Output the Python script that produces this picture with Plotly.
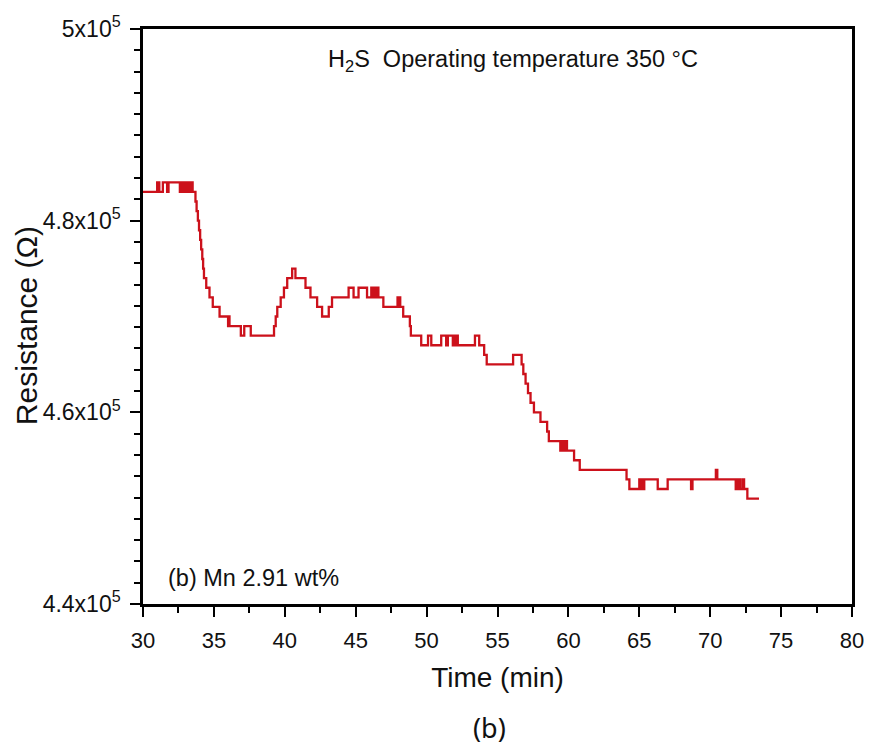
import plotly.graph_objects as go

# Sensor response to H2S at 350 °C, sample (b) Mn 2.91 wt%
# Step-wise resistance log: time (min) and resistance (ohm); each value holds until the next time stamp
time_min = [
    30.0, 31.0, 31.15, 31.4, 31.7, 31.8, 32.6, 32.7, 32.8, 32.9, 33.0, 33.1, 33.25, 33.35, 33.5,
    33.7, 33.78, 33.87, 33.95, 34.03, 34.1, 34.18, 34.24, 34.3, 34.46, 34.69, 34.92, 35.4,
    36.0, 36.05, 36.1, 36.9, 37.14, 37.6, 39.24, 39.36, 39.47, 39.71, 39.83, 39.94, 40.17,
    40.52, 40.75, 41.46, 41.81, 42.28, 42.63, 43.1, 43.33,
    44.5, 44.85, 45.2, 45.8, 46.1, 46.2, 46.3, 46.4, 46.5, 46.6, 46.95,
    47.95, 48.02, 48.08, 48.14, 48.35, 48.82, 48.89, 49.62, 50.1, 50.33, 51.03, 51.38,
    51.5, 51.85, 51.95, 52.05, 52.12, 52.2, 53.41, 53.71, 54.06, 54.24, 56.1, 56.7,
    56.82, 56.98, 57.15, 57.33, 57.57, 58.03, 58.5, 58.62, 59.43, 59.55, 59.65, 59.75, 59.9,
    60.4, 60.8, 64.1, 64.3, 65.0, 65.08, 65.16, 65.24, 65.35, 66.3, 67.0, 68.65, 68.75, 70.4, 70.5,
    71.8, 71.95, 72.1, 72.27, 72.39, 72.62, 73.44,
]
resistance_ohm = [
    483000, 484000, 483000, 484000, 483000, 484000, 483000, 484000, 483000, 484000, 483000, 484000, 483000, 484000, 483000,
    482000, 481000, 480000, 479000, 478000, 477000, 476000, 475000, 474000, 473000, 472000, 471000, 470000,
    469000, 470000, 469000, 468000, 469000, 468000, 469000, 470000, 471000, 472000, 472000, 473000, 474000,
    475000, 474000, 473000, 472000, 471000, 470000, 471000, 472000,
    473000, 472000, 473000, 472000, 473000, 472000, 473000, 472000, 473000, 472000, 471000,
    472000, 471000, 472000, 471000, 470000, 469000, 468000, 467000, 468000, 467000, 468000, 467000,
    468000, 467000, 468000, 467000, 468000, 467000, 468000, 467000, 466000, 465000, 466000, 465000,
    464000, 463000, 462000, 461000, 460000, 459000, 458000, 457000, 456000, 457000, 456000, 457000, 456000,
    455000, 454000, 453000, 452000, 453000, 452000, 453000, 452000, 453000, 452000, 453000, 452000, 453000, 454000, 453000,
    452000, 453000, 452000, 453000, 452000, 451000, 451000,
]

x_ticks = [30, 35, 40, 45, 50, 55, 60, 65, 70, 75, 80]
y_ticks = [440000, 460000, 480000, 500000]
y_tick_text = ["4.4x10<sup>5</sup>", "4.6x10<sup>5</sup>", "4.8x10<sup>5</sup>", "5x10<sup>5</sup>"]

FONT = "Liberation Sans, Arial, sans-serif"
INK = "#111111"

fig = go.Figure()
fig.add_trace(go.Scatter(
    x=time_min,
    y=resistance_ohm,
    mode="lines",
    line=dict(color="#cc111b", width=2.3, shape="hv"),
    showlegend=False,
    hoverinfo="skip",
))

axis_common = dict(
    showline=True, linecolor="black", linewidth=2.5, mirror=True,
    showgrid=False, zeroline=False,
    ticks="outside", ticklen=10, tickwidth=2, tickcolor="black",
)

fig.update_xaxes(
    **axis_common,
    range=[30, 80],
    tickvals=x_ticks,
    tickfont=dict(family=FONT, size=22, color=INK),
    ticklabelstandoff=5,
    minor=dict(ticks="outside", ticklen=6, tickwidth=2, tickcolor="black", dtick=2.5, tick0=30),
    title=dict(text="Time (min)", font=dict(family=FONT, size=28, color=INK), standoff=16),
)
fig.update_yaxes(
    **axis_common,
    range=[440000, 500000],
    tickvals=y_ticks,
    ticktext=y_tick_text,
    tickfont=dict(family=FONT, size=23, color=INK),
    ticklabelstandoff=5,
    minor=dict(ticks="outside", ticklen=6, tickwidth=2, tickcolor="black", dtick=20000 / 9, tick0=440000),
)

# y-axis title placed as a rotated annotation
fig.add_annotation(
    text="Resistance (Ω)",
    xref="paper", yref="paper", x=-0.1634, y=0.4835, xanchor="center", yanchor="middle",
    textangle=-90, showarrow=False, font=dict(family=FONT, size=30, color=INK),
)
fig.add_annotation(
    text="H<sub>2</sub>S  Operating temperature 350 °C",
    xref="paper", yref="paper", x=0.258, y=0.9445, xanchor="left", yanchor="middle",
    showarrow=False, font=dict(family=FONT, size=23.5, color=INK),
)
fig.add_annotation(
    text="(b) Mn 2.91 wt%",
    xref="paper", yref="paper", x=0.033, y=0.045, xanchor="left", yanchor="middle",
    showarrow=False, font=dict(family=FONT, size=23.5, color=INK),
)
fig.add_annotation(
    text="(b)",
    xref="paper", yref="paper", x=0.489, y=-0.215, xanchor="center", yanchor="middle",
    showarrow=False, font=dict(family="Noto Sans, sans-serif", size=27, color=INK),
)

fig.update_layout(
    width=876, height=746,
    margin=dict(l=143, r=17, t=27, b=142),
    paper_bgcolor="white", plot_bgcolor="white",
)

fig.write_html("out.html")
